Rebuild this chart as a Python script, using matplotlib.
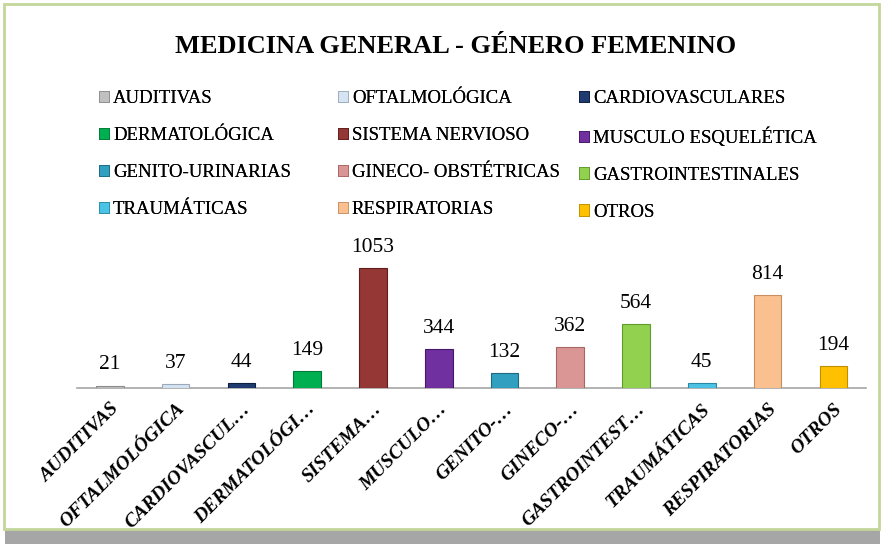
import matplotlib.pyplot as plt
from matplotlib.patches import Rectangle, Patch

plt.rcParams['font.family'] = ['Liberation Serif', 'DejaVu Serif']

categories = ['AUDITIVAS', 'OFTALMOLÓGICA', 'CARDIOVASCULARES', 'DERMATOLÓGICA',
              'SISTEMA NERVIOSO', 'MUSCULO ESQUELÉTICA', 'GENITO-URINARIAS',
              'GINECO- OBSTÉTRICAS', 'GASTROINTESTINALES', 'TRAUMÁTICAS',
              'RESPIRATORIAS', 'OTROS']
tick_labels = ['AUDITIVAS', 'OFTALMOLÓGICA', 'CARDIOVASCUL…', 'DERMATOLÓGI…',
               'SISTEMA…', 'MUSCULO…', 'GENITO-…', 'GINECO-…',
               'GASTROINTEST…', 'TRAUMÁTICAS', 'RESPIRATORIAS', 'OTROS']
values = [21, 37, 44, 149, 1053, 344, 132, 362, 564, 45, 814, 194]
colors = ['#C0C0C0', '#D6E3F2', '#1F3B70', '#00B050', '#953735', '#7030A0',
          '#31A0C0', '#D99694', '#92D050', '#4BC3E6', '#FAC090', '#FFC000']
edges = ['#8C8C8C', '#9AAABB', '#0F1F40', '#007A38', '#5E1E1C', '#47186A',
         '#1D6A80', '#A86664', '#5F9A2A', '#2A8AA6', '#C89060', '#C08F00']

fig = plt.figure(figsize=(8.84, 5.48), dpi=100)

# chart frame with shadow at the bottom
fig.patches.append(Rectangle((0.006, 0.008), 0.99, 0.03, transform=fig.transFigure,
                             facecolor='#A6A6A6', edgecolor='none', zorder=-2))
fig.patches.append(Rectangle((0.004, 0.035), 0.99, 0.957, transform=fig.transFigure,
                             facecolor='white', edgecolor='#C3D69B', linewidth=2, zorder=-1))

fig.text(0.515, 0.915, 'MEDICINA GENERAL - GÉNERO FEMENINO', ha='center', va='center',
         fontsize=19, fontweight='bold')

ax = fig.add_axes([0.087, 0.292, 0.893, 0.297])
x = range(len(values))
bars = ax.bar(x, values, width=0.42, color=colors, edgecolor=edges, linewidth=0.8, zorder=3)
for xi, v in zip(x, values):
    ax.annotate(str(v), (xi, v), xytext=(0, 8), textcoords='offset points',
                ha='center', va='bottom', fontsize=15.5)

ax.set_xlim(-0.5, len(values) - 0.5)
ax.set_ylim(0, 1430)
ax.set_yticks([])
for s in ['top', 'right', 'left']:
    ax.spines[s].set_visible(False)
ax.spines['bottom'].set_color('#A6A6A6')
ax.spines['bottom'].set_linewidth(1.2)
ax.set_xticks(list(x))
ax.set_xticklabels(tick_labels, rotation=45, ha='right', rotation_mode='anchor',
                   fontsize=14, fontweight='bold', fontstyle='italic')
ax.tick_params(axis='x', length=0, pad=9)
ax.patch.set_alpha(0)

# legend: three columns laid out like the original (row-wise order)
handles = [Patch(facecolor=c, edgecolor=e, linewidth=0.6) for c, e in zip(colors, edges)]
col_x = [0.112, 0.382, 0.655]
for c in range(3):
    idx = list(range(c, len(categories), 3))
    leg = fig.legend([handles[i] for i in idx], [categories[i] for i in idx],
                     loc='upper left', bbox_to_anchor=(col_x[c], 0.835),
                     frameon=False, fontsize=13.5, handlelength=0.55, handleheight=0.55,
                     handletextpad=0.2, labelspacing=1.06, borderpad=0, borderaxespad=0)
    fig.add_artist(leg)

fig.savefig('out.png', dpi=100)
